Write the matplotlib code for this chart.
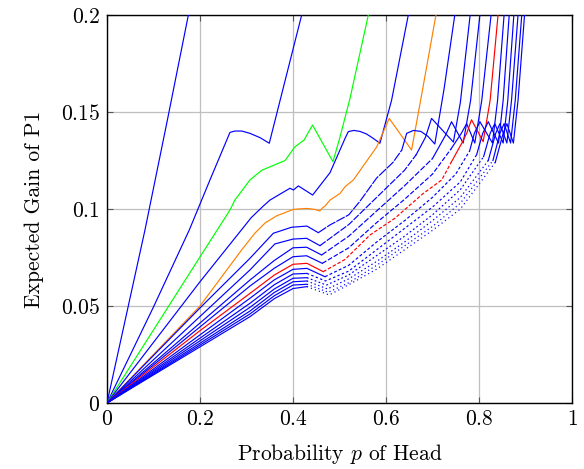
import numpy as np
import matplotlib
matplotlib.use('Agg')
from matplotlib import pyplot as plt

# curve values (p, expected gain), top to bottom
P1 = [0, 0.0817, 0.13, 0.175]
G1 = [0, 0.0892, 0.146, 0.2]

P2 = [0, 0.1, 0.177, 0.2215, 0.2645, 0.2753, 0.2897, 0.3075, 0.329, 0.349, 0.4187]
G2 = [0, 0.0495, 0.0892, 0.115, 0.1395, 0.1402, 0.1402, 0.139, 0.1368, 0.1339, 0.2]

P3 = [0, 0.2, 0.2645, 0.275, 0.3075, 0.333, 0.383, 0.404, 0.424, 0.442, 0.486, 0.501, 0.5226, 0.562]
G3 = [0, 0.0753, 0.0995, 0.1046, 0.115, 0.12, 0.125, 0.132, 0.1356, 0.1433, 0.1244, 0.137, 0.157, 0.2]

P4 = [0, 0.2, 0.2717, 0.31, 0.336, 0.3505, 0.3935, 0.401, 0.4115, 0.4423, 0.4796, 0.512, 0.519, 0.531,
      0.544, 0.558, 0.5727, 0.587, 0.612, 0.648]
G4 = [0, 0.0625, 0.084, 0.0955, 0.1015, 0.1046, 0.1107, 0.1098, 0.1119, 0.1072, 0.1187, 0.1364, 0.1399, 0.1405,
      0.14, 0.1387, 0.1364, 0.1339, 0.156, 0.2]

P5 = [0, 0.2, 0.2896, 0.318, 0.34, 0.365, 0.4007, 0.4294, 0.447, 0.458, 0.463, 0.469, 0.4796, 0.501, 0.512,
      0.53, 0.58, 0.607, 0.655, 0.6745, 0.7075]
G5 = [0, 0.05, 0.0789, 0.0875, 0.0928, 0.0965, 0.0998, 0.1003, 0.0998, 0.099, 0.1005, 0.1015, 0.1046, 0.108, 0.1115,
      0.115, 0.132, 0.1467, 0.1304, 0.156, 0.2]

P6 = [0, 0.2, 0.3075, 0.3577, 0.397, 0.43, 0.4545, 0.4796, 0.52, 0.544, 0.58, 0.615, 0.634, 0.6445,
      0.659, 0.675, 0.69, 0.705, 0.725, 0.748]
G6 = [0, 0.049, 0.0746, 0.0875, 0.0906, 0.0912, 0.0878, 0.0918, 0.097, 0.104, 0.116, 0.124, 0.1304, 0.139,
      0.1405, 0.14, 0.1375, 0.1335, 0.162, 0.2]

P7 = [0, 0.2, 0.3075, 0.361, 0.4, 0.4294, 0.458, 0.52, 0.58, 0.64, 0.665, 0.685, 0.698, 0.72, 0.745, 0.76, 0.781]
G7 = [0, 0.0446, 0.0686, 0.082, 0.0845, 0.0849, 0.0811, 0.092, 0.106, 0.12, 0.128, 0.137, 0.1467, 0.141, 0.1345, 0.155, 0.2]

P8 = [0, 0.3075, 0.36, 0.4, 0.4294, 0.4616, 0.52, 0.58, 0.64, 0.70, 0.728, 0.741, 0.766, 0.782, 0.802]
G8 = [0, 0.0634, 0.0735, 0.080, 0.0803, 0.0763, 0.086, 0.099, 0.112, 0.126, 0.138, 0.145, 0.134, 0.156, 0.2]

P9 = [0, 0.3075, 0.36, 0.4, 0.4294, 0.463, 0.52, 0.58, 0.64, 0.70, 0.74, 0.762, 0.7735, 0.791, 0.806, 0.826]
G9 = [0, 0.0603, 0.0695, 0.0754, 0.0759, 0.072, 0.08, 0.093, 0.105, 0.118, 0.131, 0.139, 0.144, 0.134, 0.156, 0.2]

P10 = [0, 0.2, 0.3075, 0.36, 0.4, 0.43, 0.465, 0.512, 0.5656, 0.619, 0.68, 0.72, 0.741, 0.763, 0.7735,
       0.784, 0.809, 0.824, 0.841]
G10 = [0, 0.0373, 0.0565, 0.066, 0.0715, 0.072, 0.0677, 0.074, 0.0866, 0.0952, 0.108, 0.115, 0.1244, 0.1339, 0.139,
       0.146, 0.1347, 0.156, 0.2]

P11 = [0, 0.3075, 0.36, 0.4, 0.43, 0.4688, 0.52, 0.58, 0.64, 0.70, 0.75, 0.78, 0.79, 0.802, 0.829, 0.84, 0.854]
G11 = [0, 0.054, 0.0635, 0.0689, 0.0694, 0.0651, 0.071, 0.083, 0.094, 0.106, 0.118, 0.130, 0.139, 0.145, 0.134, 0.156, 0.2]

P12 = [0, 0.3075, 0.36, 0.4, 0.43, 0.47, 0.52, 0.58, 0.64, 0.70, 0.76, 0.795, 0.808, 0.82, 0.842, 0.852, 0.865]
G12 = [0, 0.0514, 0.061, 0.0665, 0.0668, 0.0629, 0.068, 0.079, 0.09, 0.101, 0.114, 0.128, 0.139, 0.145, 0.134, 0.156, 0.2]

P13 = [0, 0.3075, 0.36, 0.4, 0.43, 0.472, 0.52, 0.58, 0.64, 0.70, 0.76, 0.81, 0.824, 0.834, 0.852, 0.862, 0.875]
G13 = [0, 0.0493, 0.0588, 0.0643, 0.0646, 0.0608, 0.066, 0.076, 0.086, 0.097, 0.11, 0.127, 0.139, 0.144, 0.134, 0.156, 0.2]

P14 = [0, 0.3075, 0.36, 0.4, 0.43, 0.474, 0.52, 0.58, 0.64, 0.70, 0.76, 0.82, 0.836, 0.845, 0.86, 0.87, 0.884]
G14 = [0, 0.0474, 0.057, 0.0625, 0.0629, 0.0588, 0.064, 0.073, 0.083, 0.094, 0.106, 0.125, 0.139, 0.144, 0.134, 0.156, 0.2]

P15 = [0, 0.3075, 0.36, 0.4, 0.43, 0.476, 0.52, 0.58, 0.64, 0.70, 0.76, 0.83, 0.845, 0.854, 0.868, 0.878, 0.892]
G15 = [0, 0.0459, 0.0553, 0.0608, 0.0612, 0.0571, 0.062, 0.071, 0.081, 0.091, 0.103, 0.125, 0.139, 0.144, 0.134, 0.156, 0.2]

P16 = [0, 0.3075, 0.36, 0.4, 0.43, 0.478, 0.52, 0.58, 0.64, 0.70, 0.76, 0.835, 0.852, 0.86, 0.874, 0.884, 0.898]
G16 = [0, 0.0445, 0.0538, 0.059, 0.06, 0.0557, 0.061, 0.069, 0.079, 0.089, 0.10, 0.124, 0.139, 0.144, 0.134, 0.156, 0.2]

curves = [(P1, G1), (P2, G2), (P3, G3), (P4, G4), (P5, G5), (P6, G6), (P7, G7), (P8, G8),
          (P9, G9), (P10, G10), (P11, G11), (P12, G12), (P13, G13), (P14, G14), (P15, G15), (P16, G16)]

# styling
BLUE, GREEN, ORANGE, RED = '#0000ff', '#00ff00', '#ff8000', '#ff0000'
colors = [BLUE, BLUE, GREEN, BLUE, ORANGE] + [BLUE] * 4 + [RED] + [BLUE] * 6
# broken (dotted looking) stretch of the lower curves, up to where the hump starts
dash_start = [None] * 5 + [0.4545, 0.458, 0.4616, 0.463, 0.465, 0.4688, 0.43, 0.43, 0.43, 0.43, 0.43]
dash_end = [None] * 5 + [0.634, 0.665, 0.70, 0.74, 0.741, 0.78, 0.795, 0.81, 0.82, 0.83, 0.835]
dash_pat = [None] * 5 + [(8, 1), (6, 1.2), (5, 1.5), (4, 1.6), (3, 1.6), (2.5, 1.8), (2, 2),
                         (1.5, 2), (1.2, 2.2), (1, 2.4), (1, 2.6)]

plt.rcParams['font.family'] = 'serif'
plt.rcParams['font.serif'] = ['cmr10']
plt.rcParams['mathtext.fontset'] = 'cm'
plt.rcParams['axes.formatter.use_mathtext'] = True

fig = plt.figure(figsize=(5.84, 4.69), dpi=100)
ax = fig.add_axes([0.1832, 0.1407, 0.7962, 0.8273])

lw = 0.85
for i, (p, g) in enumerate(curves):
    p = np.array(p)
    g = np.array(g)
    c = colors[i]
    if dash_start[i] is None:
        ax.plot(p, g, color=c, lw=lw, zorder=3)
        continue
    a = p <= dash_start[i]
    b = (p >= dash_start[i]) & (p <= dash_end[i])
    d = p >= dash_end[i]
    ax.plot(p[a], g[a], color=c, lw=lw, zorder=3)
    ax.plot(p[b], g[b], color=c, lw=lw, zorder=3, linestyle=(0, dash_pat[i]))
    ax.plot(p[d], g[d], color=c, lw=lw, zorder=3)

ax.set_xlim(0, 1)
ax.set_ylim(0, 0.2)
ax.set_xticks([0, 0.2, 0.4, 0.6, 0.8, 1])
ax.set_xticklabels(['$0$', '$0.2$', '$0.4$', '$0.6$', '$0.8$', '$1$'])
ax.set_yticks([0, 0.05, 0.1, 0.15, 0.2])
ax.set_yticklabels(['$0$', '$0.05$', '$0.1$', '$0.15$', '$0.2$'])
ax.grid(True, color='#bfbfbf', linewidth=0.9)
ax.set_axisbelow(True)
ax.tick_params(axis='both', which='major', labelsize=15.5, direction='in', length=4,
               color='#555555', top=True, right=True, pad=5)
for s in ax.spines.values():
    s.set_linewidth(1.0)
ax.set_xlabel('Probability $p$ of Head', fontsize=15.5, labelpad=9)
ax.set_ylabel('Expected Gain of P1', fontsize=15.5, labelpad=12)

fig.savefig('out.png', dpi=100)
